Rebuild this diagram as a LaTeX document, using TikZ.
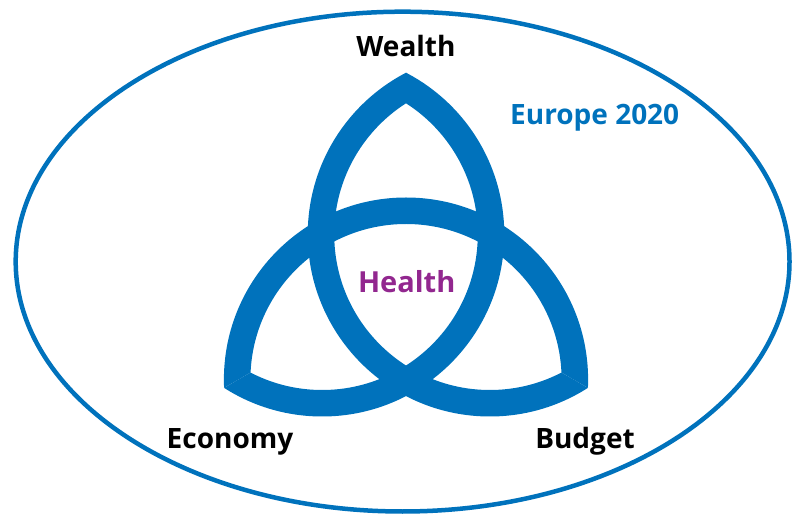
\documentclass[tikz,border=0pt]{standalone}
\usepackage{fontspec}
\setmainfont{Open Sans}
\usepackage{tikz}
\usetikzlibrary{calc}
\definecolor{eublue}{RGB}{0,114,188}
\definecolor{healthpurple}{RGB}{146,39,143}
\tikzstyle{word} = [font=\fontsize{28}{30}\selectfont\bfseries, anchor=base, inner sep=0pt]
\tikzstyle{strand} = [fill=eublue, even odd rule]

\begin{document}
\begin{tikzpicture}[x=1pt,y=1pt]
\useasboundingbox (0,0) rectangle (792,514);

\draw[eublue, line width=4.5] (402.6,252.4) ellipse [x radius=386.9, y radius=249.9];

\coordinate (G) at (406,231.2);
\foreach \a in {30,150,270}{
  \coordinate (c\a) at ($(G)+(\a:96.8)$);
  \begin{scope}
    \clip (G) -- +({\a+60}:400) -- +({\a+120}:400) -- +({\a+180}:400)
      -- +({\a+240}:400) -- +({\a+300}:400) -- cycle;
    \fill[strand] (c\a) circle (182.1) (c\a) circle (155.6);
  \end{scope}
}

\node[word] (wealth) at (406,457) {Wealth};
\node[word, text=eublue] (europe) at (594.7,389.7) {Europe 2020};
\node[word, text=healthpurple, font=\fontsize{29}{31}\selectfont\bfseries] (health) at (406.7,221.3) {Health};
\node[word] (economy) at (230,65.7) {Economy};
\node[word] (budget) at (585,65.7) {Budget};
\end{tikzpicture}
\end{document}
